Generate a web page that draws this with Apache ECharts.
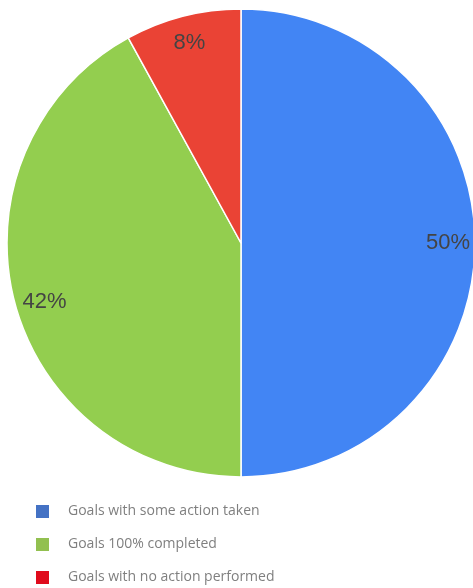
<!DOCTYPE html>
<html>
<head>
<meta charset="utf-8">
<script src="https://cdn.jsdelivr.net/npm/echarts@6/dist/echarts.min.js"></script>
<style>
  html, body { margin: 0; padding: 0; background: #fff; }
  #goal_chart { width: 473px; height: 588px; }
</style>
</head>
<body>
<div id="goal_chart"></div>
<script>
// slice names and values (percent)
const categories = ['Goals with some action taken', 'Goals 100% completed', 'Goals with no action performed'];
const values = [50, 42, 8];
const sliceColors = ['#4285F4', '#93CE4F', '#EA4335'];
const legendColors = ['#4472C4', '#92C050', '#E00B1C'];

const myChart = echarts.init(document.getElementById('goal_chart'));

const pieData = categories.map((name, i) => ({
  name: name,
  value: values[i],
  itemStyle: {color: sliceColors[i]}
}));

// one legend per row so the rows stay stacked under the pie
const legends = categories.map((name, i) => ({
  orient: 'vertical',
  left: 34,
  top: 503 + i * 33,
  padding: 0,
  itemWidth: 15,
  itemHeight: 15,
  icon: 'rect',
  selectedMode: false,
  textStyle: {
    color: '#7f7f7f',
    fontSize: 14,
    lineHeight: 15,
    fontFamily: 'Open Sans',
    padding: [0, 0, 0, 13]
  },
  data: [{name: name, itemStyle: {color: legendColors[i]}}]
}));

myChart.setOption({
  animation: false,
  legend: legends,
  series: [
    {
      type: 'pie',
      center: [241, 243],
      radius: [0, 234],
      startAngle: 90,
      clockwise: true,
      silent: true,
      label: {show: false},
      labelLine: {show: false},
      itemStyle: {borderColor: '#fff', borderWidth: 1.5},
      data: pieData
    },
    {
      // transparent ring only used to place the percent labels near the rim
      type: 'pie',
      center: [241, 243],
      radius: [174, 234],
      startAngle: 90,
      clockwise: true,
      silent: true,
      legendHoverLink: false,
      itemStyle: {color: 'transparent', borderWidth: 0},
      label: {
        show: true,
        position: 'inside',
        formatter: '{d}%',
        color: '#444',
        fontSize: 22,
        fontFamily: 'Liberation Sans'
      },
      labelLine: {show: false},
      data: categories.map((name, i) => ({
        name: name + ' ',
        value: values[i],
        // green label sits a little lower in the original
        label: i === 1 ? {offset: [4, 7]} : undefined
      }))
    }
  ]
});
</script>
</body>
</html>
